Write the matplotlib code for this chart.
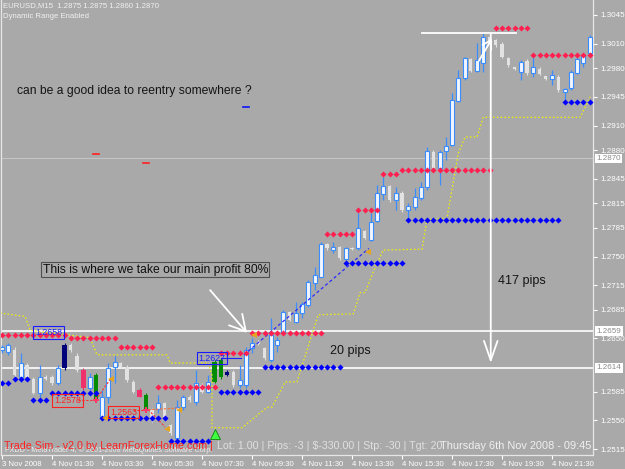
import matplotlib
matplotlib.use("Agg")
import matplotlib.pyplot as plt
import numpy as np

plt.rcParams['font.family'] = ['Liberation Sans', 'DejaVu Sans']

# EURUSD M15 bars, 3 Nov 2008 23:30 onwards (open, high, low, close)
opens = [1.2636, 1.2634, 1.2636, 1.2603, 1.2618, 1.2601, 1.2584, 1.2603, 1.2603, 1.2596,
         1.2614, 1.2642, 1.2628, 1.2611, 1.2590, 1.2605, 1.2554, 1.2579, 1.2615, 1.2620,
         1.2615, 1.2597, 1.2587, 1.2581, 1.2563, 1.2564, 1.2571, 1.2544, 1.2529, 1.2566,
         1.2579, 1.2572, 1.2593, 1.2585, 1.2597, 1.2624, 1.2605, 1.2609, 1.2593, 1.2593,
         1.2638, 1.2646, 1.2638, 1.2624, 1.2642, 1.2658, 1.2682, 1.2670, 1.2681, 1.2691,
         1.2718, 1.2725, 1.2765, 1.2758, 1.2762, 1.2747, 1.2760, 1.2760, 1.2781, 1.2770,
         1.2793, 1.2826, 1.2836, 1.2819, 1.2828, 1.2807, 1.2811, 1.2822, 1.2835, 1.2878,
         1.2858, 1.2879, 1.2886, 1.2940, 1.2968, 1.2991, 1.2977, 1.2986, 1.3018, 1.3014,
         1.3010, 1.2992, 1.2981, 1.2975, 1.2989, 1.2974, 1.2979, 1.2970, 1.2967, 1.2969,
         1.2951, 1.2956, 1.2974, 1.2986, 1.2999]
highs = [1.2642, 1.2645, 1.2640, 1.2632, 1.2620, 1.2603, 1.2618, 1.2605, 1.2605, 1.2618,
         1.2645, 1.2645, 1.2632, 1.2614, 1.2608, 1.2608, 1.2587, 1.2620, 1.2628, 1.2621,
         1.2617, 1.2599, 1.2590, 1.2584, 1.2565, 1.2581, 1.2572, 1.2546, 1.2575, 1.2581,
         1.2581, 1.2611, 1.2596, 1.2605, 1.2624, 1.2626, 1.2611, 1.2611, 1.2618, 1.2640,
         1.2651, 1.2648, 1.2640, 1.2675, 1.2652, 1.2685, 1.2684, 1.2695, 1.2695, 1.2721,
         1.2737, 1.2768, 1.2767, 1.2768, 1.2763, 1.2762, 1.2762, 1.2803, 1.2783, 1.2803,
         1.2837, 1.2847, 1.2838, 1.2835, 1.2830, 1.2815, 1.2834, 1.2841, 1.2884, 1.2880,
         1.2880, 1.2896, 1.2950, 1.2978, 1.2994, 1.2993, 1.3011, 1.3023, 1.3020, 1.3016,
         1.3012, 1.2994, 1.2982, 1.2990, 1.2991, 1.2994, 1.2981, 1.2971, 1.2978, 1.2972,
         1.2956, 1.2978, 1.2994, 1.2999, 1.3021]
lows = [1.2632, 1.2630, 1.2603, 1.2597, 1.2601, 1.2582, 1.2578, 1.2599, 1.2593, 1.2593,
        1.2611, 1.2634, 1.2609, 1.2587, 1.2587, 1.2572, 1.2550, 1.2571, 1.2596, 1.2614,
        1.2597, 1.2584, 1.2578, 1.2560, 1.2548, 1.2559, 1.2552, 1.2532, 1.2526, 1.2563,
        1.2573, 1.2569, 1.2584, 1.2584, 1.2596, 1.2601, 1.2604, 1.2591, 1.2590, 1.2590,
        1.2632, 1.2642, 1.2624, 1.2621, 1.2634, 1.2657, 1.2671, 1.2669, 1.2675, 1.2688,
        1.2709, 1.2725, 1.2758, 1.2754, 1.2746, 1.2746, 1.2758, 1.2758, 1.2771, 1.2769,
        1.2792, 1.2819, 1.2817, 1.2807, 1.2805, 1.2798, 1.2807, 1.2819, 1.2831, 1.2856,
        1.2837, 1.2868, 1.2885, 1.2939, 1.2966, 1.2975, 1.2975, 1.2975, 1.3009, 1.3006,
        1.2992, 1.2982, 1.2978, 1.2966, 1.2972, 1.2969, 1.2972, 1.2966, 1.2960, 1.2951,
        1.2939, 1.2953, 1.2973, 1.2981, 1.2996]
closes = [1.2640, 1.2642, 1.2605, 1.2620, 1.2603, 1.2584, 1.2603, 1.2601, 1.2596, 1.2614,
          1.2642, 1.2636, 1.2611, 1.2590, 1.2603, 1.2575, 1.2579, 1.2614, 1.2621, 1.2615,
          1.2599, 1.2585, 1.2579, 1.2563, 1.2550, 1.2571, 1.2554, 1.2534, 1.2566, 1.2579,
          1.2575, 1.2596, 1.2585, 1.2597, 1.2621, 1.2603, 1.2609, 1.2593, 1.2599, 1.2636,
          1.2645, 1.2643, 1.2626, 1.2654, 1.2648, 1.2682, 1.2673, 1.2681, 1.2692, 1.2719,
          1.2727, 1.2765, 1.2760, 1.2762, 1.2748, 1.2760, 1.2759, 1.2785, 1.2773, 1.2792,
          1.2828, 1.2836, 1.2819, 1.2828, 1.2807, 1.2812, 1.2823, 1.2835, 1.2879, 1.2858,
          1.2878, 1.2885, 1.2941, 1.2968, 1.2992, 1.2977, 1.2990, 1.3018, 1.3011, 1.3008,
          1.2994, 1.2984, 1.2979, 1.2988, 1.2974, 1.2981, 1.2973, 1.2967, 1.2972, 1.2953,
          1.2955, 1.2975, 1.2991, 1.2996, 1.3018]

# bars painted by the colour indicator
painted = {10: '#00007a', 13: '#f0306a', 15: '#008c00', 22: '#f0306a', 23: '#008c00',
           34: '#008c00', 35: '#008c00', 36: '#00007a'}

# dynamic range levels: (first bar, last bar, price)
resist = [(0, 10, 1.2654), (11, 18, 1.2650), (19, 24, 1.2640), (25, 34, 1.2591),
          (35, 39, 1.2632), (40, 51, 1.2657), (52, 56, 1.2777), (57, 60, 1.2807),
          (61, 63, 1.2851), (64, 78, 1.2856), (79, 84, 1.3029), (85, 94, 1.2996)]
support = [(0, 1, 1.2596), (2, 4, 1.2600), (5, 7, 1.2575), (8, 15, 1.2584),
           (16, 26, 1.2553), (27, 33, 1.2525), (35, 41, 1.2585), (42, 54, 1.2615),
           (55, 64, 1.2742), (65, 89, 1.2795), (90, 94, 1.2939)]

# trailing stop (step line)
trail_x = [-0.3, 3.7, 4.5, 14.1, 15.2, 26.4, 26.9, 33.0, 33.6, 33.6, 38.4, 42.4, 43.2,
           45.3, 47.2, 50.6, 56.2, 57.3, 58.1, 59.7, 61.0, 67.2, 68.0, 71.2, 73.0, 74.1,
           76.0, 77.0, 92.5, 94.1]
trail_y = [1.2681, 1.2677, 1.2660, 1.2651, 1.2630, 1.2630, 1.2620, 1.2620, 1.2605, 1.2541,
           1.2541, 1.2566, 1.2566, 1.2597, 1.2597, 1.2679, 1.2680, 1.2706, 1.2706, 1.2737,
           1.2758, 1.2759, 1.2795, 1.2797, 1.2876, 1.2896, 1.2896, 1.2920, 1.2920, 1.2945]

# simulated trades
trade_marks_x = [17.4, 16.5, 26.4, 28.3, 40.3, 58.6]
trade_marks_y = [1.2601, 1.2553, 1.2540, 1.2563, 1.2654, 1.2756]
cross_x = [15.0, 23.0]
cross_y = [1.2575, 1.2563]
entry_arrow = (34.1, 1.2533)

price_ticks = [1.3045, 1.3010, 1.2980, 1.2945, 1.2910, 1.2880, 1.2845, 1.2815, 1.2785,
               1.2750, 1.2715, 1.2685, 1.2650, 1.2585, 1.2550, 1.2515]
boxed_prices = [1.2870, 1.2659, 1.2614]
time_ticks = list(range(0, 95, 8))
time_labels = ['3 Nov 2008', '4 Nov 01:30', '4 Nov 03:30', '4 Nov 05:30', '4 Nov 07:30',
               '4 Nov 09:30', '4 Nov 11:30', '4 Nov 13:30', '4 Nov 15:30', '4 Nov 17:30',
               '4 Nov 19:30', '4 Nov 21:30']

bg = '#a9a9aa'
fig = plt.figure(figsize=(6.25, 4.69), dpi=100, facecolor=bg)
ax = fig.add_axes([1 / 625, 14 / 469, 592 / 625, 455 / 469], facecolor=bg)
ax.set_xlim(-0.16, 94.56)
ax.set_ylim(1.25077, 1.30633)

x = np.arange(len(opens))
o = np.array(opens); h = np.array(highs); l = np.array(lows); c = np.array(closes)

# horizontal reference lines
ax.axhline(1.2870, color='#c4c4c4', lw=0.8, zorder=1)
ax.axhline(1.2659, color='white', lw=1.2, zorder=1)
ax.axhline(1.2614, color='white', lw=1.2, zorder=1)

# candles
for i in x:
    top, bot = max(o[i], c[i]), min(o[i], c[i])
    if bot == top:
        top += 0.00004
    if i in painted:
        col = painted[i]
        ax.vlines(i, l[i], h[i], color=col, lw=0.8, zorder=3)
        ax.bar(i, top - bot, bottom=bot, width=0.72, color=col, lw=0, zorder=4)
    elif c[i] >= o[i]:
        ax.vlines(i, l[i], h[i], color='#3a8cff', lw=0.9, zorder=3)
        ax.bar(i, max(top - bot, 0.00005), bottom=bot, width=0.64, color='#f2f7ff',
               edgecolor='#3a8cff', lw=0.8, zorder=4)
    else:
        ax.vlines(i, l[i], h[i], color='#e2e2e2', lw=0.8, zorder=3)
        ax.bar(i, max(top - bot, 0.00005), bottom=bot, width=0.52, color='#e2e2e2',
               lw=0, zorder=4)

# trailing stop
ax.plot(trail_x, trail_y, color='#f2f200', lw=0.9, ls=(0, (1.2, 1.8)), zorder=5)

# dynamic range dots
for s, e, p in resist:
    xs = np.arange(s, e + 1)
    ax.plot(xs, [p] * len(xs), 'D', color='#ff2050', ms=3.1, mew=0, zorder=6)
for s, e, p in support:
    xs = np.arange(s, e + 1)
    ax.plot(xs, [p] * len(xs), 'D', color='#0000ff', ms=3.1, mew=0, zorder=6)

# trade lines
ax.plot([12.2, 15.0], [1.2575, 1.2575], color='#ff3030', lw=0.8, ls=(0, (2, 1.5)), zorder=5)
ax.plot([15.0, 17.4], [1.2575, 1.2601], color='#ff3030', lw=0.8, ls=(0, (2, 1.5)), zorder=5)
ax.plot([21.0, 23.0], [1.2563, 1.2563], color='#ff3030', lw=0.8, ls=(0, (2, 1.5)), zorder=5)
ax.plot([23.4, 28.2], [1.2563, 1.2565], color='#ff6a30', lw=0.8, ls=(0, (2, 1.5)), zorder=5)
ax.plot([23.4, 26.1], [1.2563, 1.2542], color='#ff3030', lw=0.8, ls=(0, (2, 1.5)), zorder=5)
ax.plot([35.0, 38.2], [1.2626, 1.2626], color='#2020ff', lw=0.8, zorder=5)
ax.plot([38.7, 58.7], [1.2630, 1.2760], color='#2a2aff', lw=0.9, ls=(0, (2.5, 2)), zorder=5)
ax.plot(trade_marks_x, trade_marks_y, '<', color='#e6a520', ms=4, mew=0, zorder=7)
ax.plot(cross_x, cross_y, 'P', color='#ff3a6a', ms=4.5, mew=0, zorder=7)
ax.plot(*entry_arrow, '^', color='#40ff40', mec='#108010', ms=7, mew=0.6, zorder=7)

# small marks left on the chart
ax.plot([38.6, 39.5], [1.2933, 1.2933], color='#1010ff', lw=1.2, zorder=5)
ax.plot([14.6, 15.5], [1.2875, 1.2875], color='#ff2020', lw=1.2, zorder=5)
ax.plot([22.6, 23.5], [1.2864, 1.2864], color='#ff2020', lw=1.2, zorder=5)

# price boxes on the chart
for bx, py, txt, col in [(5.3, 1.2657, '1.2658', '#1a1aff'), (8.3, 1.2574, '1.2578', '#ff2020'),
                         (17.3, 1.2560, '1.2563', '#ff2020'), (31.4, 1.2626, '1.2627', '#1a1aff')]:
    ax.text(bx, py, txt, color=col, fontsize=6.3, va='center', ha='left', zorder=8,
            bbox=dict(boxstyle='square,pad=0.2', fc='none', ec=col, lw=0.8))

# white drawings
wkw = dict(color='white', lw=1.3, shrinkA=0, shrinkB=0)
ax.annotate('', xy=(39.2, 1.2657), xytext=(33.3, 1.2709),
            arrowprops=dict(arrowstyle='->,head_length=0.8,head_width=0.45', mutation_scale=14, **wkw), zorder=9)
ax.annotate('', xy=(78.2, 1.2620), xytext=(78.2, 1.3022),
            arrowprops=dict(arrowstyle='->,head_length=1.0,head_width=0.35', mutation_scale=14, **wkw), zorder=9)
ax.annotate('', xy=(78.4, 1.3016), xytext=(76.3, 1.2989),
            arrowprops=dict(arrowstyle='->,head_length=0.5,head_width=0.3', mutation_scale=12, **wkw), zorder=9)
ax.plot([67.2, 82.2], [1.3023, 1.3023], color='white', lw=1.3, zorder=9)

# chart texts
ax.text(2.4, 1.2952, 'can be a good idea to reentry somewhere ?', color='#151515',
        fontsize=8.7, va='center', ha='left', zorder=9)
ax.text(6.5, 1.2734, 'This is where we take our main profit 80%', color='#101010',
        fontsize=8.7, va='center', ha='left', zorder=9,
        bbox=dict(boxstyle='square,pad=0.12', fc='none', ec='#505050', lw=0.8))
ax.text(79.4, 1.2720, '417 pips', color='#151515', fontsize=9, va='center', ha='left', zorder=9)
ax.text(55.8, 1.2635, '20 pips', color='#151515', fontsize=9, va='center', ha='center', zorder=9)

# axes styling
ax.spines['top'].set_visible(False)
for side in ['left', 'right', 'bottom']:
    ax.spines[side].set_color('#e6e6e6')
    ax.spines[side].set_linewidth(0.9)
ax.yaxis.tick_right()
ax.set_yticks(price_ticks)
ax.set_yticklabels(['%.4f' % p for p in price_ticks])
ax.tick_params(axis='y', colors='white', labelsize=5.8, length=3, width=0.8, pad=2)
ax.set_xticks(time_ticks)
ax.set_xticklabels(time_labels, ha='left')
ax.tick_params(axis='x', colors='white', labelsize=5.6, length=3, width=0.8, pad=1)
for p in boxed_prices:
    ax.text(1.006, p, '%.4f' % p, transform=ax.get_yaxis_transform(), color='#8a8a8a',
            fontsize=5.8, va='center', ha='left', zorder=10,
            bbox=dict(boxstyle='square,pad=0.15', fc='white', ec='none'))

# header and status line
def fpos(px, py):
    return px / 625, 1 - py / 469

fig.text(*fpos(3, 6), 'EURUSD,M15  1.2875 1.2875 1.2860 1.2870', color='#f0f0f0',
         fontsize=5.6, va='center', ha='left')
fig.text(*fpos(3, 16), 'Dynamic Range Enabled', color='#f0f0f0', fontsize=5.6,
         va='center', ha='left')
fig.text(*fpos(5, 450), 'FXDD - MetaTrader 4, \u00a9 2001-2008 MetaQuotes Software Corp.',
         color='#ececec', fontsize=5.2, va='center', ha='left')
fig.text(*fpos(4, 446), 'Trade Sim - v2.0 by LearnForexHome.com |', color='#ff2020',
         fontsize=7.7, va='center', ha='left')
fig.text(*fpos(217, 446), 'Lot: 1.00 | Pips: -3 | $-330.00 | Stp: -30 | Tgt: 20',
         color='#e0e0e0', fontsize=7.7, va='center', ha='left')
fig.text(*fpos(591, 446), 'Thursday 6th Nov 2008 - 09:45', color='#f0f0f0',
         fontsize=7.9, va='center', ha='right')

fig.savefig('out.png', dpi=100, facecolor=bg)
